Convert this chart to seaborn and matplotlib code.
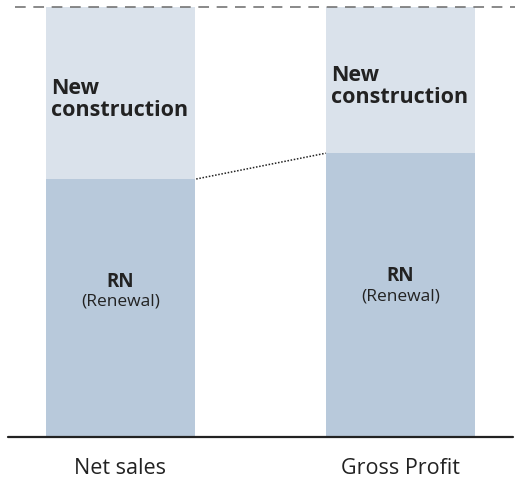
import matplotlib
matplotlib.use("Agg")
import matplotlib.pyplot as plt
import seaborn as sns
import pandas as pd

categories = ["Net sales", "Gross Profit"]
renewal_share = [60, 66]       # RN (Renewal) share, %
total_share = [100, 100]       # RN + New construction

light = "#dae2eb"
dark = "#b8c9db"
ink = "#222222"

sns.set_style("white")
plt.rcParams["font.family"] = ["Open Sans", "DejaVu Sans"]

df = pd.DataFrame({"category": categories, "total": total_share, "rn": renewal_share})

fig = plt.figure(figsize=(5.15, 4.86), dpi=100)
ax = fig.add_axes([0, 49 / 486, 1, (437 - 7) / 486])

bw = 0.532
sns.barplot(data=df, x="category", y="total", order=categories, color=light,
            width=bw, saturation=1, ax=ax, linewidth=0)
sns.barplot(data=df, x="category", y="rn", order=categories, color=dark,
            width=bw, saturation=1, ax=ax, linewidth=0)

ax.set_xlim(-0.43, 1.41)
ax.set_ylim(0, 100)
sns.despine(ax=ax, left=True, bottom=True, top=True, right=True)
ax.set_yticks([])
ax.set_xlabel("")
ax.set_ylabel("")
ax.tick_params(axis="x", length=0, pad=15, labelsize=15.5, labelcolor=ink)

# 100% dashed reference line and baseline
ax.axhline(100, color="#6a6a6a", lw=1.1, ls=(0, (7, 5)), xmin=15 / 515, clip_on=False)
ax.axhline(0, color=ink, lw=1.6, xmin=8 / 515, xmax=513 / 515, clip_on=False)

# dotted connector between RN tops
ax.plot([0 + bw / 2 + 0.005, 1 - bw / 2], [renewal_share[0], renewal_share[1]],
        ls=(0, (1, 1.1)), color="#222222", lw=1.1)

for i, (rn, tot) in enumerate(zip(renewal_share, total_share)):
    ax.text(i - bw / 2 + 0.02, (rn + tot) / 2 - 1.5, "New\nconstruction",
            ha="left", va="center", fontsize=15.5, fontweight="bold",
            color=ink, linespacing=1.05)
    ax.text(i, 0.23 * rn + 22.3, "RN", ha="center", va="center", fontsize=13.5,
            fontweight="bold", color=ink)
    ax.text(i, 0.23 * rn + 17.6, "(Renewal)", ha="center", va="center", fontsize=12.5,
            color=ink)

fig.savefig("out.png", dpi=100)
